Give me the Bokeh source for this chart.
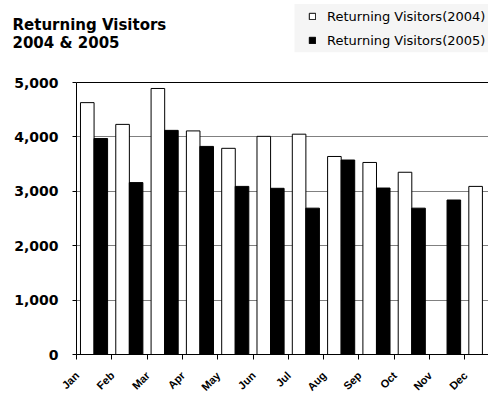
import numpy as np
from bokeh.plotting import figure
from bokeh.layouts import column, row
from bokeh.models import (ColumnDataSource, Range1d, FixedTicker, NumeralTickFormatter,
                          Legend, LegendItem, Label, Span, BoxAnnotation)
from bokeh.embed import file_html
from bokeh.resources import INLINE

months = ["Jan", "Feb", "Mar", "Apr", "May", "Jun", "Jul", "Aug", "Sep", "Oct", "Nov", "Dec"]
visitors_2004 = [4630, 4230, 4890, 4110, 3790, 4010, 4050, 3640, 3530, 3350, np.nan, 3090]
visitors_2005 = [3970, 3160, 4120, 3825, 3090, 3055, 2690, 3575, 3060, 2690, 2840, np.nan]
y_ticks = [0, 1000, 2000, 3000, 4000, 5000]
title_lines = ["Returning Visitors", "2004 & 2005"]
series_names = ["Returning Visitors(2004)", "Returning Visitors(2005)"]

# ---------------- header (title + legend) ----------------
H_HEAD = 70
head = figure(width=488, height=H_HEAD, x_range=Range1d(0, 488), y_range=Range1d(0, H_HEAD),
              output_backend="svg", toolbar_location=None,
              x_axis_location=None, y_axis_location=None,
              min_border_left=0, min_border_right=0, min_border_top=0, min_border_bottom=0)
head.outline_line_color = None
head.grid.visible = False
head.background_fill_color = "white"
head.border_fill_color = "white"

head.add_layout(BoxAnnotation(left=294, right=488, bottom=18.3, top=66.5,
                              fill_color="#f5f5f5", fill_alpha=1, line_color=None))

# legend swatches: renderers kept outside the visible range, only used for the key
key_src = ColumnDataSource(dict(x=[-1000.0], top=[0.0]))
d04 = head.vbar(x="x", top="top", width=1, source=key_src, fill_color="white", line_color="black")
d05 = head.vbar(x="x", top="top", width=1, source=key_src, fill_color="black", line_color="black")
legend = Legend(items=[LegendItem(label=series_names[0], renderers=[d04]),
                       LegendItem(label=series_names[1], renderers=[d05])],
                location=(308, 21))
legend.background_fill_alpha = 0
legend.border_line_color = None
legend.glyph_width = 8
legend.glyph_height = 8
legend.label_standoff = 11
legend.label_text_font = "DejaVu Sans"
legend.label_text_font_size = "13px"
legend.label_text_color = "black"
legend.label_height = 18
legend.spacing = 6
legend.padding = 4
legend.margin = 0
head.add_layout(legend)

head.add_layout(Label(x=12, y=H_HEAD - 24, x_units="screen", y_units="screen", text=title_lines[0],
                      text_font="DejaVu Sans", text_font_style="bold", text_font_size="15px",
                      text_baseline="alphabetic", text_align="left", text_color="black"))
head.add_layout(Label(x=12, y=H_HEAD - 42.5, x_units="screen", y_units="screen", text=title_lines[1],
                      text_font="DejaVu Sans", text_font_style="bold", text_font_size="15px",
                      text_baseline="alphabetic", text_align="left", text_color="black"))

# ---------------- main chart ----------------
idx = np.arange(len(months))
bar_w = 0.385
src = ColumnDataSource(dict(
    x04=idx + 0.305,
    x05=idx + 0.688,
    v04=np.array(visitors_2004, dtype=float),
    v05=np.array(visitors_2005, dtype=float),
))

p = figure(width=488, height=330,
           x_range=Range1d(0, 11.67), y_range=Range1d(0, 5000 * 282 / 272),
           output_backend="svg", toolbar_location=None,
           min_border_left=76, min_border_right=0,
           min_border_top=2, min_border_bottom=46)
p.outline_line_color = None
p.background_fill_color = "white"
p.border_fill_color = "white"

# grid
p.xgrid.visible = False
p.ygrid.ticker = FixedTicker(ticks=y_ticks)
p.ygrid.grid_line_color = "#808080"
p.ygrid.grid_line_width = 1

# y axis
p.yaxis.ticker = FixedTicker(ticks=y_ticks)
p.yaxis.bounds = (0, 5000)
p.yaxis.formatter = NumeralTickFormatter(format="0,0")
p.yaxis.major_label_text_font = "DejaVu Sans"
p.yaxis.major_label_text_font_style = "bold"
p.yaxis.major_label_text_font_size = "14px"
p.yaxis.major_label_text_color = "black"
p.yaxis.major_tick_out = 4
p.yaxis.major_tick_in = 0
p.yaxis.minor_tick_line_color = None
p.yaxis.major_label_standoff = 14
p.yaxis.axis_line_color = "black"
p.yaxis.major_tick_line_color = "black"

# x axis
label_pos = [float(i) + 0.015625 for i in idx]
p.xaxis.ticker = FixedTicker(ticks=label_pos, minor_ticks=[float(i) for i in range(len(months) + 1)])
p.xaxis.major_label_overrides = {lp: m for lp, m in zip(label_pos, months)}
p.xaxis.major_label_orientation = np.pi / 4
p.xaxis.major_label_text_font = "Liberation Sans"
p.xaxis.major_label_text_font_style = "bold"
p.xaxis.major_label_text_font_size = "11px"
p.xaxis.major_label_text_color = "black"
p.xaxis.major_tick_line_color = None
p.xaxis.major_tick_out = 0
p.xaxis.major_tick_in = 0
p.xaxis.minor_tick_line_color = "black"
p.xaxis.minor_tick_out = 5
p.xaxis.minor_tick_in = 0
p.xaxis.major_label_standoff = 14
p.xaxis.axis_line_color = "black"

# bars
r04 = p.vbar(x="x04", top="v04", width=bar_w, source=src,
             fill_color="white", line_color="black", line_width=1)
r05 = p.vbar(x="x05", top="v05", width=bar_w, source=src,
             fill_color="black", line_color="black", line_width=1)

p.add_layout(Span(location=5000, dimension="width", line_color="black", line_width=1))

layout = column(row(head), p, spacing=0)
open("out.html", "w").write(file_html(layout, INLINE))
